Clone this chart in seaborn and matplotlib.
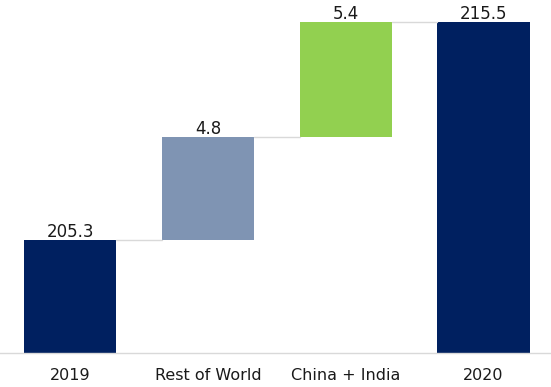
import matplotlib
matplotlib.use("Agg")
import matplotlib.pyplot as plt
import seaborn as sns
import numpy as np

categories = ["2019", "Rest of World", "China + India", "2020"]
changes = [205.3, 4.8, 5.4, 215.5]
labels = ["205.3", "4.8", "5.4", "215.5"]
is_total = [True, False, False, True]
colors = ["#002060", "#7F94B3", "#92D050", "#002060"]

# waterfall geometry from data
bottoms = []
heights = []
running = 0.0
for v, tot in zip(changes, is_total):
    if tot:
        bottoms.append(0.0)
        heights.append(v)
        running = v
    else:
        bottoms.append(running)
        heights.append(v)
        running += v
bottoms = np.array(bottoms)
heights = np.array(heights)
tops = bottoms + heights

sns.set_theme(style="white")
plt.rcParams["font.family"] = ["DejaVu Sans"]

fig = plt.figure(figsize=(5.51, 3.87), dpi=100)
ax = fig.add_axes([0, 1 - 353 / 387, 1, 353 / 387])

sns.barplot(x=categories, y=heights, bottom=bottoms, color=colors[0],
            width=0.67, ax=ax, linewidth=0, errorbar=None)
for p, c in zip(ax.patches, colors):
    p.set_facecolor(c)

# connectors
w = 0.67
for i in range(len(categories) - 1):
    ax.plot([i + w / 2, i + 1 - w / 2], [tops[i], tops[i]], color="#D9D9D9",
            lw=1.0, zorder=1)

for i, (t, lab) in enumerate(zip(tops, labels)):
    ax.annotate(lab, (i, t), xytext=(0, -0.5), textcoords="offset points",
                ha="center", va="bottom", fontsize=12, color="#1A1A1A")

ax.set_xlim(-0.51, 3.49)
ax.set_ylim(200, 216.53)
ax.set_yticks([])
ax.set_xlabel("")
ax.set_ylabel("")
for s in ["top", "right", "left"]:
    ax.spines[s].set_visible(False)
ax.spines["bottom"].set_color("#D9D9D9")
ax.spines["bottom"].set_linewidth(1.0)
ax.tick_params(axis="x", length=0, pad=11, labelsize=11.5, labelcolor="#1A1A1A")
ax.patch.set_alpha(0)

fig.savefig("out.png", dpi=100)
